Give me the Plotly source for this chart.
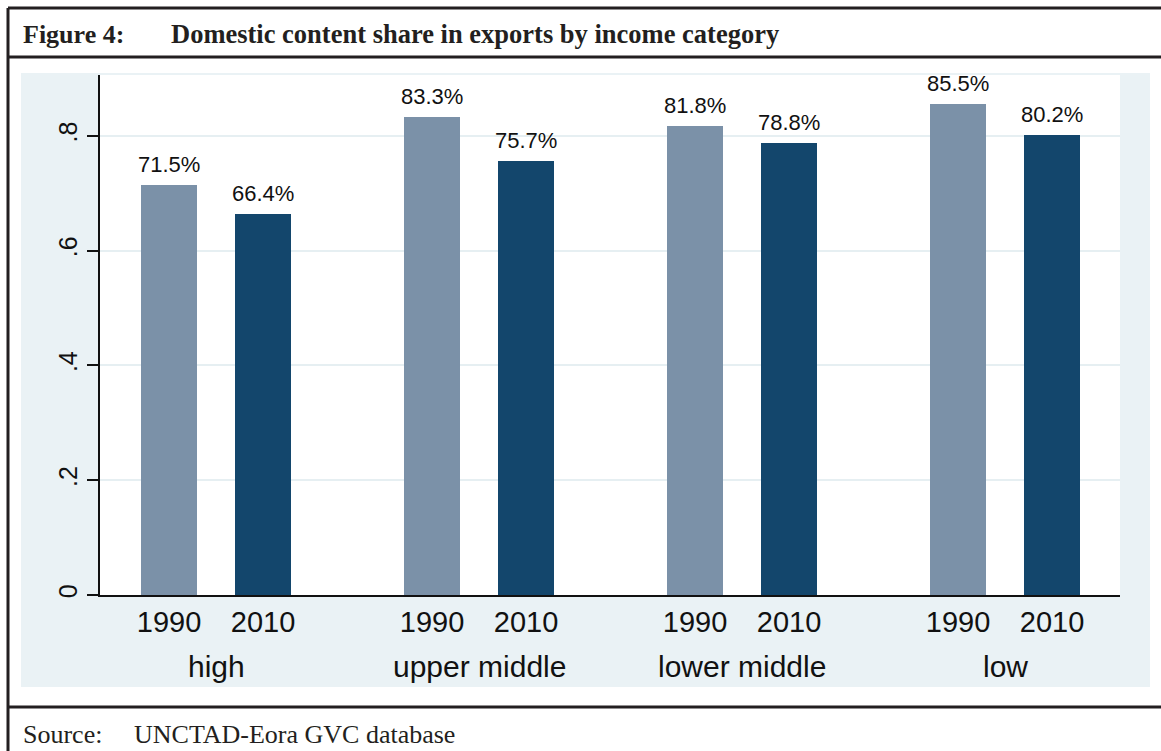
import plotly.graph_objects as go

# ---- data ----
categories = ["high", "upper middle", "lower middle", "low"]
years = ["1990", "2010"]
share_1990 = [0.715, 0.833, 0.818, 0.855]
share_2010 = [0.664, 0.757, 0.788, 0.802]
ytick_vals = [0, 0.2, 0.4, 0.6, 0.8]
ytick_text = ["0", ".2", ".4", ".6", ".8"]

title_label = "Figure 4:"
title_text = "Domestic content share in exports by income category"
source_label = "Source:"
source_text = "UNCTAD-Eora GVC database"

# ---- geometry ----
W, H = 1161, 751
L, R, T, B = 100, 1120, 75, 595  # plot area in pixels


def px(x):
    return (x - L) / (R - L)


def py(y):
    return (B - y) / (B - T)


offset = 0.1787
bar_w = 0.213
colors = {"1990": "#7b91a8", "2010": "#13466c"}

fig = go.Figure()
all_x, all_t = [], []
annotations = []
for yr, vals, sgn in [("1990", share_1990, -1), ("2010", share_2010, 1)]:
    xs = [i + sgn * offset for i in range(len(categories))]
    all_x += xs
    all_t += [yr] * len(xs)
    fig.add_trace(go.Bar(
        x=xs, y=vals, width=bar_w, name=yr,
        marker=dict(color=colors[yr], line=dict(width=0)),
        showlegend=False, hoverinfo="skip",
    ))
    for xv, v in zip(xs, vals):
        annotations.append(dict(text=f"{v*100:.1f}%", xref="x", yref="y", x=xv, y=v,
                                xanchor="center", yanchor="bottom", yshift=6, showarrow=False,
                                font=dict(family="Liberation Sans", size=22, color="#111111")))

line_col = "#231f20"
shapes = [
    # light blue graph region
    dict(type="rect", xref="paper", yref="paper", x0=px(21), x1=px(1150), y0=py(687), y1=py(73),
         fillcolor="#eaf2f5", line=dict(width=0), layer="below"),
    # white plot region
    dict(type="rect", xref="paper", yref="paper", x0=0, x1=1, y0=0, y1=1,
         fillcolor="white", line=dict(width=0), layer="below"),
    # outer frame lines
    dict(type="line", xref="paper", yref="paper", x0=px(8), x1=px(1170), y0=py(8), y1=py(8),
         line=dict(color=line_col, width=3)),
    dict(type="line", xref="paper", yref="paper", x0=px(8), x1=px(8), y0=py(8), y1=py(760),
         line=dict(color=line_col, width=3)),
    dict(type="line", xref="paper", yref="paper", x0=px(8), x1=px(1170), y0=py(57), y1=py(57),
         line=dict(color=line_col, width=3)),
    dict(type="line", xref="paper", yref="paper", x0=px(8), x1=px(1170), y0=py(707), y1=py(707),
         line=dict(color=line_col, width=3)),
]

annotations += [
    dict(text=f"<b>{title_label}</b>", xref="paper", yref="paper", x=px(21), y=py(34),
         xanchor="left", yanchor="middle", showarrow=False,
         font=dict(family="Liberation Serif", size=26, color="#231f20")),
    dict(text=f"<b>{title_text}</b>", xref="paper", yref="paper", x=px(169), y=py(34),
         xanchor="left", yanchor="middle", showarrow=False,
         font=dict(family="Liberation Serif", size=26.5, color="#231f20")),
    dict(text=source_label, xref="paper", yref="paper", x=px(21), y=py(734),
         xanchor="left", yanchor="middle", showarrow=False,
         font=dict(family="Liberation Serif", size=26, color="#231f20")),
    dict(text=source_text, xref="paper", yref="paper", x=px(132), y=py(734),
         xanchor="left", yanchor="middle", showarrow=False,
         font=dict(family="Liberation Serif", size=26, color="#231f20")),
]
for i, c in enumerate(categories):
    annotations.append(dict(text=c, xref="x", yref="paper", x=i, y=py(666),
                            xanchor="center", yanchor="middle", showarrow=False,
                            font=dict(family="Liberation Sans", size=30, color="#111111")))

fig.update_layout(
    width=W, height=H,
    margin=dict(l=L, r=W - R, t=T, b=H - B, autoexpand=False),
    paper_bgcolor="white", plot_bgcolor="white",
    shapes=shapes, annotations=annotations,
    bargap=0,
    xaxis=dict(range=[(L - 216) / 263, (R - 216) / 263], tickvals=all_x, ticktext=all_t,
               showgrid=False, zeroline=False, showline=True, linecolor="#111111", linewidth=1.5,
               ticks="", tickfont=dict(family="Liberation Sans", size=29, color="#111111"),
               ticklabelstandoff=0),
    yaxis=dict(range=[0, 0.906], tickvals=ytick_vals, ticktext=ytick_text, tickangle=-90,
               showgrid=True, gridcolor="#e6eff2", gridwidth=2, zeroline=False,
               showline=True, linecolor="#111111", linewidth=1.5,
               ticks="outside", ticklen=11, tickwidth=1.5, tickcolor="#111111",
               tickfont=dict(family="Liberation Sans", size=25, color="#111111")),
)

fig.write_html("out.html", config={"displayModeBar": False},
               post_script="document.body.style.margin='0';document.body.style.overflow='hidden';")
